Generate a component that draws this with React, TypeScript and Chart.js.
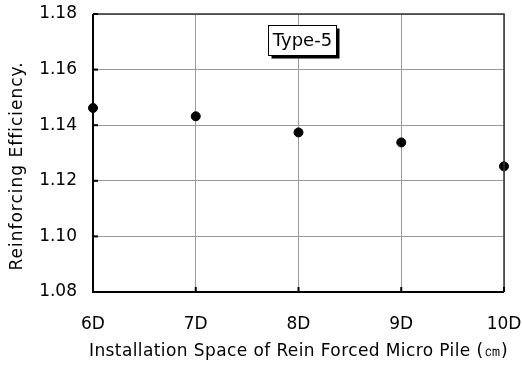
import React, { useEffect, useRef } from "react";
import { Chart, registerables } from "chart.js";

Chart.register(...registerables);

const spacing = [6, 7, 8, 9, 10];
const efficiency = [1.1462, 1.1432, 1.1374, 1.1338, 1.1252];
const yTicks = [1.08, 1.1, 1.12, 1.14, 1.16, 1.18];
const legendLabel = "Type-5";
const xTitle = "Installation Space of Rein Forced Micro Pile (㎝)";
const yTitle = "Reinforcing Efficiency.";

const FONT = "'DejaVu Sans', sans-serif";

const framePlugin = {
  id: "frame",
  afterDraw(chart: any) {
    const { ctx, chartArea } = chart;
    const { left, right, top, bottom } = chartArea;
    const xs = chart.scales.x;
    const ys = chart.scales.y;
    ctx.save();
    ctx.strokeStyle = "#333";
    ctx.lineWidth = 1.5;
    ctx.beginPath();
    ctx.moveTo(left, top);
    ctx.lineTo(right, top);
    ctx.lineTo(right, bottom);
    ctx.stroke();
    ctx.strokeStyle = "#000";
    ctx.lineWidth = 2;
    ctx.beginPath();
    ctx.moveTo(left, top);
    ctx.lineTo(left, bottom);
    ctx.lineTo(right, bottom);
    ctx.stroke();
    yTicks.forEach((v) => {
      const y = ys.getPixelForValue(v);
      ctx.beginPath();
      ctx.moveTo(left, y);
      ctx.lineTo(left + 5, y);
      ctx.stroke();
    });
    spacing.forEach((v) => {
      const x = xs.getPixelForValue(v);
      ctx.beginPath();
      ctx.moveTo(x, bottom);
      ctx.lineTo(x, bottom - 5);
      ctx.stroke();
    });
    ctx.fillStyle = "#000";
    ctx.font = `17px ${FONT}`;
    ctx.textAlign = "center";
    ctx.textBaseline = "middle";
    (ctx as any).letterSpacing = "0.4px";
    ctx.fillText(xTitle, (left + right) / 2, 352);
    (ctx as any).letterSpacing = "1px";
    ctx.translate(18, 166);
    ctx.rotate(-Math.PI / 2);
    ctx.fillText(yTitle, 0, 0);
    ctx.restore();

    ctx.save();
    const bx = 268.5, by = 25.5, bw = 68, bh = 30;
    ctx.fillStyle = "#000";
    ctx.fillRect(bx + 3, by + 3, bw, bh);
    ctx.fillStyle = "#fff";
    ctx.fillRect(bx, by, bw, bh);
    ctx.strokeStyle = "#000";
    ctx.lineWidth = 1;
    ctx.strokeRect(bx, by, bw, bh);
    ctx.fillStyle = "#000";
    ctx.font = `18px ${FONT}`;
    ctx.textAlign = "center";
    ctx.textBaseline = "middle";
    ctx.fillText(legendLabel, bx + bw / 2, by + bh / 2 + 1);
    ctx.restore();
  },
};

function zeroPad(scale: any) {
  scale.paddingTop = 0;
  scale.paddingBottom = 0;
  scale.paddingLeft = 0;
  scale.paddingRight = 0;
}

export default function App() {
  const ref = useRef<HTMLCanvasElement>(null);
  useEffect(() => {
    document.body.style.margin = "0";
    const chart = new Chart(ref.current!, {
      type: "scatter",
      data: {
        datasets: [
          {
            label: legendLabel,
            data: spacing.map((x, i) => ({ x, y: efficiency[i] })),
            backgroundColor: "#000",
            borderColor: "#000",
            pointRadius: 4.5,
            pointHoverRadius: 4.5,
            clip: false as any,
          },
        ],
      },
      options: {
        animation: false,
        responsive: false,
        layout: { padding: { top: 14, right: 18, left: 0, bottom: 0 } },
        plugins: { legend: { display: false }, tooltip: { enabled: false } },
        scales: {
          x: {
            type: "linear",
            min: 6,
            max: 10,
            afterFit(scale: any) {
              scale.height = 73;
              zeroPad(scale);
            },
            afterBuildTicks(scale: any) {
              scale.ticks = spacing.map((v) => ({ value: v }));
            },
            ticks: {
              callback: (v: any) => `${v}D`,
              color: "#000",
              font: { family: FONT, size: 17 },
              padding: 22,
              maxRotation: 0,
            },
            grid: { color: "#999", lineWidth: 1, drawTicks: false },
            border: { display: false },
          },
          y: {
            min: 1.08,
            max: 1.18,
            afterFit(scale: any) {
              scale.width = 93;
              zeroPad(scale);
            },
            afterBuildTicks(scale: any) {
              scale.ticks = yTicks.map((v) => ({ value: v }));
            },
            ticks: {
              callback: (v: any) => Number(v).toFixed(2),
              color: "#000",
              font: { family: FONT, size: 17 },
              padding: 16,
            },
            grid: { color: "#999", lineWidth: 1, drawTicks: false },
            border: { display: false },
          },
        },
      },
      plugins: [framePlugin],
    });
    return () => chart.destroy();
  }, []);
  return <canvas ref={ref} width={522} height={365} style={{ display: "block" }} />;
}
